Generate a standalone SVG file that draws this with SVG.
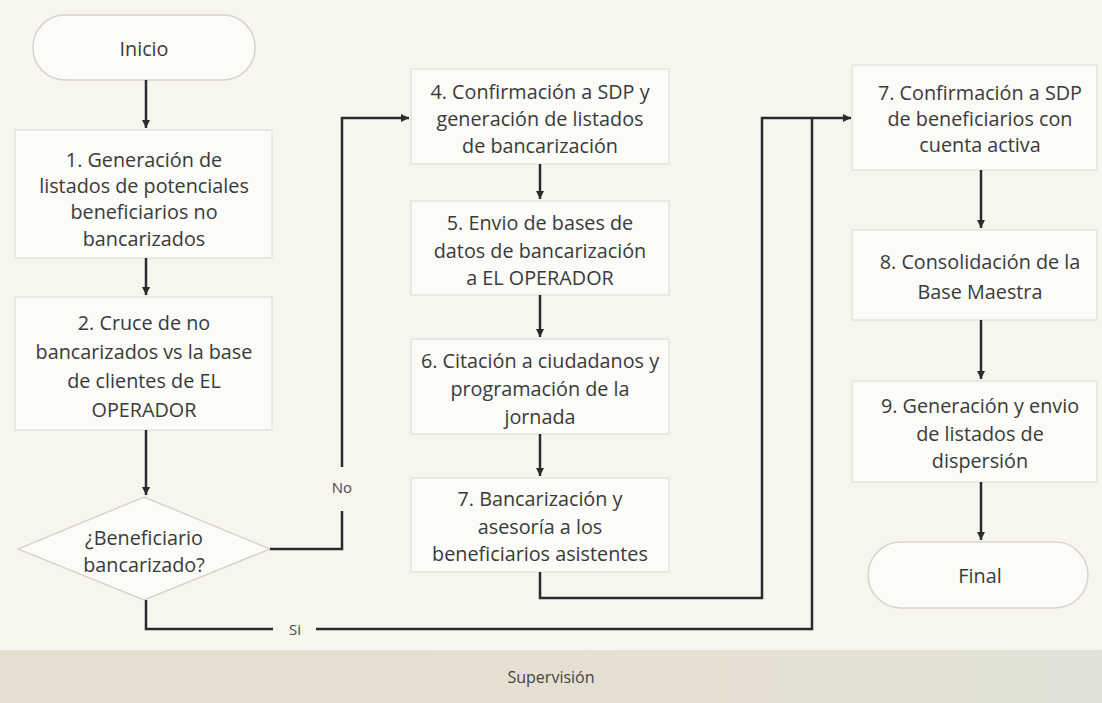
<svg xmlns="http://www.w3.org/2000/svg" width="1102" height="703" viewBox="0 0 1102 703">
<defs>
<style>
.bg{fill:#f7f6ee}
.box{fill:#fbfbf7;stroke:#e6e5dc;stroke-width:1.5}
.term{fill:#fbfbf7;stroke:#d8d4cc;stroke-width:1.5}
.t{font-family:"Open Sans","Noto Sans","Liberation Sans",sans-serif;font-size:19.8px;fill:#3a3a3a;text-anchor:middle;dominant-baseline:central}
.lbl{font-family:"Open Sans","Noto Sans","Liberation Sans",sans-serif;font-size:15px;fill:#4a4a4a;text-anchor:middle;dominant-baseline:central}
.sup{font-family:"Open Sans","Noto Sans","Liberation Sans",sans-serif;font-size:16px;fill:#444;text-anchor:middle;dominant-baseline:central}
.c{fill:none;stroke:#2b2b2b;stroke-width:2.5}
</style>
<marker id="ah" markerUnits="userSpaceOnUse" markerWidth="9" markerHeight="9" refX="8" refY="4.5" orient="auto">
<path d="M0,0.5 L8,4.5 L0,8.5 z" fill="#2b2b2b"/>
</marker>
<linearGradient id="barg" x1="0" y1="0" x2="1" y2="0">
<stop offset="0" stop-color="#e5dfd0"/>
<stop offset="0.6" stop-color="#e6e0d2"/>
<stop offset="1" stop-color="#e1e2d8"/>
</linearGradient>
</defs>
<rect class="bg" x="0" y="0" width="1102" height="703"/>

<g id="supervision">
<rect x="0" y="650" width="1102" height="53" fill="url(#barg)"/>
<text class="sup" x="551" y="677">Supervisión</text>
</g>

<g id="inicio">
<rect class="term" x="33" y="15" width="222" height="65" rx="32" ry="32"/>
<text class="t" x="144" y="48">Inicio</text>
</g>

<g id="n1">
<rect class="box" x="15" y="130" width="257" height="128"/>
<text class="t" x="144" y="159">1. Generación de</text>
<text class="t" x="144" y="185">listados de potenciales</text>
<text class="t" x="144" y="211">beneficiarios no</text>
<text class="t" x="144" y="238">bancarizados</text>
</g>

<g id="n2">
<rect class="box" x="15" y="297" width="257" height="133"/>
<text class="t" x="144" y="322">2. Cruce de no</text>
<text class="t" x="144" y="351">bancarizados vs la base</text>
<text class="t" x="144" y="380">de clientes de  EL</text>
<text class="t" x="144" y="409">OPERADOR</text>
</g>

<g id="decision">
<polygon class="term" points="144,497 270,549 144,600 18,549"/>
<text class="t" x="144" y="537">¿Beneficiario</text>
<text class="t" x="144" y="564">bancarizado?</text>
</g>

<g id="n4">
<rect class="box" x="411" y="69" width="258" height="95"/>
<text class="t" x="540" y="91">4. Confirmación a SDP y</text>
<text class="t" x="540" y="118">generación de listados</text>
<text class="t" x="540" y="145">de bancarización</text>
</g>

<g id="n5">
<rect class="box" x="411" y="201" width="258" height="94"/>
<text class="t" x="540" y="222">5. Envio de bases de</text>
<text class="t" x="540" y="250">datos de bancarización</text>
<text class="t" x="540" y="277">a EL OPERADOR</text>
</g>

<g id="n6">
<rect class="box" x="411" y="339" width="258" height="95"/>
<text class="t" x="540" y="360">6. Citación a ciudadanos y</text>
<text class="t" x="540" y="388">programación de la</text>
<text class="t" x="540" y="416">jornada</text>
</g>

<g id="n7">
<rect class="box" x="411" y="478" width="258" height="94"/>
<text class="t" x="540" y="498">7. Bancarización y</text>
<text class="t" x="540" y="526">asesoría a los</text>
<text class="t" x="540" y="553">beneficiarios asistentes</text>
</g>

<g id="n7b">
<rect class="box" x="852" y="65" width="245" height="105"/>
<text class="t" x="980" y="92">7. Confirmación a SDP</text>
<text class="t" x="980" y="118">de beneficiarios con</text>
<text class="t" x="980" y="144">cuenta activa</text>
</g>

<g id="n8">
<rect class="box" x="852" y="230" width="245" height="90"/>
<text class="t" x="980" y="261">8. Consolidación de la</text>
<text class="t" x="980" y="291">Base Maestra</text>
</g>

<g id="n9">
<rect class="box" x="852" y="381" width="245" height="101"/>
<text class="t" x="980" y="405">9. Generación y envio</text>
<text class="t" x="980" y="433">de listados de</text>
<text class="t" x="980" y="460">dispersión</text>
</g>

<g id="final">
<rect class="term" x="868" y="542" width="220" height="66" rx="33" ry="33"/>
<text class="t" x="980" y="575">Final</text>
</g>

<g id="connectors">
<path class="c" d="M146,80 V128" marker-end="url(#ah)"/>
<path class="c" d="M146,258 V295" marker-end="url(#ah)"/>
<path class="c" d="M146,430 V495" marker-end="url(#ah)"/>
<path class="c" d="M270,549 H342 V511"/>
<path class="c" d="M342,467 V118 H409" marker-end="url(#ah)"/>
<text class="lbl" x="342" y="487">No</text>
<path class="c" d="M146,600 V629 H273"/>
<path class="c" d="M316,629 H812 V118 H851" marker-end="url(#ah)"/>
<text class="lbl" x="295" y="629">Si</text>
<path class="c" d="M540,572 V598 H762 V118 H812"/>
<path class="c" d="M540,164 V199" marker-end="url(#ah)"/>
<path class="c" d="M540,295 V337" marker-end="url(#ah)"/>
<path class="c" d="M540,434 V476" marker-end="url(#ah)"/>
<path class="c" d="M981,170 V228" marker-end="url(#ah)"/>
<path class="c" d="M981,320 V379" marker-end="url(#ah)"/>
<path class="c" d="M981,482 V540" marker-end="url(#ah)"/>
</g>
</svg>
